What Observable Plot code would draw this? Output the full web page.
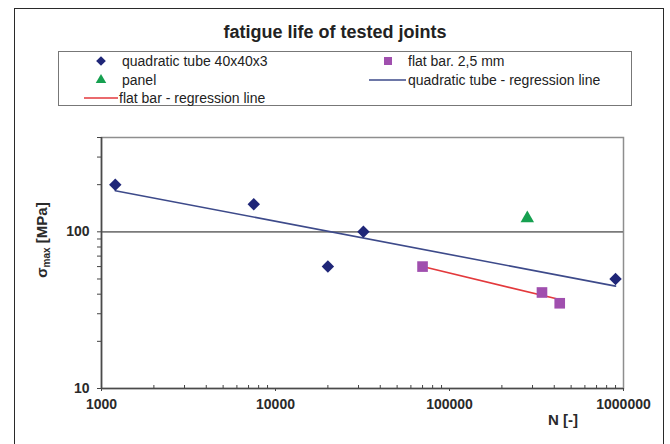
<!DOCTYPE html>
<html>
<head>
<meta charset="utf-8">
<script src="https://cdn.jsdelivr.net/npm/d3@7"></script>
<script src="https://cdn.jsdelivr.net/npm/@observablehq/plot@0.6"></script>
<style>
  html, body { margin: 0; padding: 0; background: #fff; }
  #wrap { position: relative; width: 670px; height: 444px; overflow: hidden; font-family: "Liberation Sans", Arial, sans-serif; color: #222; }
  #outer { position: absolute; left: 14px; top: 8px; width: 650px; height: 460px; border: 1.5px solid #2a2a2a; box-sizing: border-box; }
  #chart { position: absolute; left: 0; top: 0; }
  #title { position: absolute; left: 0; width: 670px; top: 21px; text-align: center; font-weight: bold; font-size: 18px; line-height: 22px; }
  #legend { position: absolute; left: 58px; top: 51px; width: 574px; height: 55px; border: 1.5px solid #777; box-sizing: border-box; }
  .li { position: absolute; font-size: 14px; line-height: 16px; white-space: nowrap; }
  .sym { position: absolute; }
</style>
</head>
<body>
<div id="wrap">
  <div id="outer"></div>
  <div id="chart"></div>
  <div id="title">fatigue life of tested joints</div>
  <div id="legend"></div>
</div>
<script>
// ---- data ----
const tubeN = [1200, 7500, 20000, 32000, 900000];
const tubeS = [200, 150, 60, 100, 50];
const panelN = [280000];
const panelS = [122];
const flatN = [70000, 340000, 430000];
const flatS = [60, 41, 35];
const tubeRegN = [1200, 900000];
const tubeRegS = [183, 45];
const flatRegN = [70000, 430000];
const flatRegS = [60, 37];

const xMajor = [1000, 10000, 100000, 1000000];
const xMinor = [2e3,3e3,4e3,5e3,6e3,7e3,8e3,9e3, 2e4,3e4,4e4,5e4,6e4,7e4,8e4,9e4, 2e5,3e5,4e5,5e5,6e5,7e5,8e5,9e5];
const yTicks = [10,20,30,40,50,60,70,80,90,100,200,300,400];
const yLabeled = [10, 100];
const gridY = [100];

const colTube = "#1f2678", colTubeLine = "#3d4a8a", colPanel = "#16a050", colFlat = "#a04fae", colFlatLine = "#e3393c";

const tube = tubeN.map((n, i) => ({n, s: tubeS[i]}));
const panel = panelN.map((n, i) => ({n, s: panelS[i]}));
const flat = flatN.map((n, i) => ({n, s: flatS[i]}));
const tubeReg = tubeRegN.map((n, i) => ({n, s: tubeRegS[i]}));
const flatReg = flatRegN.map((n, i) => ({n, s: flatRegS[i]}));

const font = '"Liberation Sans", Arial, sans-serif';

const svg = Plot.plot({
  width: 670,
  height: 444,
  marginLeft: 101,
  marginRight: 47,
  marginTop: 137,
  marginBottom: 56,
  style: { fontFamily: font, background: "transparent", overflow: "visible" },
  x: { type: "log", domain: [1000, 1000000] },
  y: { type: "log", domain: [10, 400] },
  marks: [
    Plot.frame({ stroke: "#8e8e8e", strokeWidth: 1.5 }),
    Plot.ruleY(gridY, { stroke: "#7a7a7a", strokeWidth: 1.6 }),
    Plot.axisX(xMinor, { tickSize: 3, dy: -3, tickFormat: () => "", label: null, stroke: "#444" }),
    Plot.axisX(xMajor, { tickSize: 3, tickPadding: 8, tickFormat: d => String(d), label: null,
      fontSize: 14, fontWeight: "bold", fill: "#2a2a2a", stroke: "#444" }),
    Plot.axisY(yTicks, { tickSize: 4, tickPadding: 8, label: null,
      tickFormat: d => yLabeled.includes(d) ? String(d) : "",
      fontSize: 14, fontWeight: "bold", fill: "#2a2a2a", stroke: "#444" }),
    Plot.ruleX([1000], { stroke: "#4a4a4a", strokeWidth: 1.6 }),
    Plot.ruleY([10], { stroke: "#4a4a4a", strokeWidth: 1.6 }),
    Plot.line(tubeReg, { x: "n", y: "s", stroke: colTubeLine, strokeWidth: 1.6 }),
    Plot.line(flatReg, { x: "n", y: "s", stroke: colFlatLine, strokeWidth: 1.6 }),
    Plot.dot(tube, { x: "n", y: "s", symbol: "diamond2", r: 5.6, fill: colTube, stroke: "none" }),
    Plot.dot(panel, { x: "n", y: "s", symbol: "triangle", r: 5, fill: colPanel, stroke: "none" }),
    Plot.dot(flat, { x: "n", y: "s", symbol: "square", r: 6, fill: colFlat, stroke: "none" })
  ]
});

// axis titles
const s = d3.select(svg);
s.append("text")
  .attr("x", 563).attr("y", 425)
  .attr("text-anchor", "middle")
  .attr("font-size", 15).attr("font-weight", "bold").attr("fill", "#2a2a2a")
  .attr("font-family", font)
  .text("N [-]");
const yl = s.append("text")
  .attr("transform", "translate(47,240) rotate(-90)")
  .attr("text-anchor", "middle")
  .attr("font-size", 15).attr("font-weight", "bold").attr("fill", "#2a2a2a")
  .attr("font-family", font);
yl.append("tspan").text("σ");
yl.append("tspan").attr("font-size", 10).attr("dy", 3).text("max");
yl.append("tspan").attr("dy", -3).text(" [MPa]");

document.getElementById("chart").appendChild(svg);

// legend
const legendItems = [
  { label: "quadratic tube 40x40x3", kind: "diamond", color: colTube, sx: 42, tx: 63, y: 9 },
  { label: "flat bar. 2,5 mm", kind: "square", color: colFlat, sx: 329, tx: 349, y: 9 },
  { label: "panel", kind: "triangle", color: colPanel, sx: 42, tx: 63, y: 28 },
  { label: "quadratic tube - regression line", kind: "line", color: colTubeLine, sx: 310, sw: 37, tx: 349, y: 28 },
  { label: "flat bar - regression line", kind: "line", color: colFlatLine, sx: 25, sw: 34, tx: 60, y: 46 }
];
const leg = document.getElementById("legend");
const symPaths = {
  diamond: d3.symbol(d3.symbolDiamond2, 60)(),
  square: d3.symbol(d3.symbolSquare, 64)(),
  triangle: d3.symbol(d3.symbolTriangle, 48)()
};
for (const it of legendItems) {
  const ns = "http://www.w3.org/2000/svg";
  const sv = document.createElementNS(ns, "svg");
  sv.setAttribute("class", "sym");
  if (it.kind === "line") {
    sv.setAttribute("width", it.sw); sv.setAttribute("height", 4);
    sv.style.left = it.sx + "px"; sv.style.top = (it.y - 2) + "px";
    const l = document.createElementNS(ns, "line");
    l.setAttribute("x1", 0); l.setAttribute("x2", it.sw); l.setAttribute("y1", 2); l.setAttribute("y2", 2);
    l.setAttribute("stroke", it.color); l.setAttribute("stroke-width", 1.6);
    sv.appendChild(l);
  } else {
    sv.setAttribute("width", 14); sv.setAttribute("height", 14);
    sv.style.left = (it.sx - 7) + "px"; sv.style.top = (it.y - 7) + "px";
    const p = document.createElementNS(ns, "path");
    p.setAttribute("d", symPaths[it.kind]);
    p.setAttribute("transform", "translate(7,7)");
    p.setAttribute("fill", it.color);
    sv.appendChild(p);
  }
  leg.appendChild(sv);
  const t = document.createElement("div");
  t.className = "li";
  t.style.left = it.tx + "px";
  t.style.top = (it.y - 8) + "px";
  t.textContent = it.label;
  leg.appendChild(t);
}
</script>
</body>
</html>
